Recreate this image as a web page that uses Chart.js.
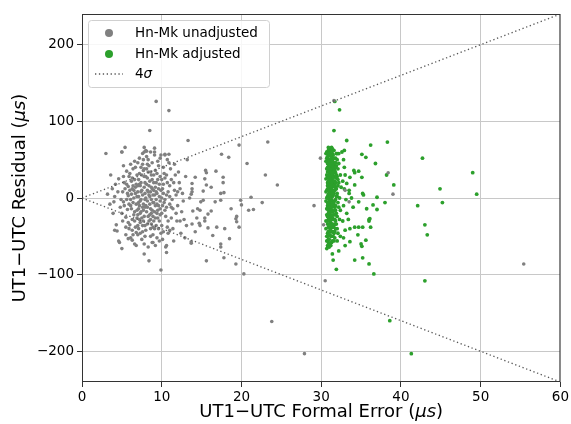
<!DOCTYPE html>
<html>
<head>
<meta charset="utf-8">
<script src="https://cdn.jsdelivr.net/npm/chart.js@4.4.1/dist/chart.umd.min.js"></script>
<style>
  html, body { margin: 0; padding: 0; background: #fff; }
  #wrap { width: 571px; height: 424px; }
</style>
</head>
<body>
<div id="wrap"><canvas id="chart"></canvas></div>
<script>
// Hn-Mk unadjusted: [formal error, residual] in microseconds
const unadjusted = [
  [3.2,5],[3.5,-8],[3.8,12],[3.9,-20],[4.1,2],[4.3,-35],[4.4,-43],[4.6,25],[4.7,-58],[4.2,18],[3.6,30],[4.8,-12],[3.0,58],
  [5.0,-66],[5.4,66],[5.0,60],[5.1,8],[5.2,-5],[5.3,20],[5.5,-25],[5.6,35],[5.7,-15],[5.8,3],[5.9,-40],[5.2,42],[5.5,-48],
  [5.8,15],[5.1,-30],[5.6,-2],[5.9,28],[6.0,10],[6.1,-10],[6.2,22],[6.3,-28],[6.4,38],[6.5,0],[6.6,-18],[6.7,14],[6.8,-45],
  [6.9,30],[6.0,-35],[6.2,5],[6.4,-6],[6.6,48],[6.8,18],[6.1,-52],[6.3,12],[6.5,-22],[6.7,-38],[6.9,2],[6.3,26],[6.6,-30],
  [7.0,8],[7.1,-14],[7.2,32],[7.3,-4],[7.4,20],[7.5,-26],[7.6,44],[7.7,-8],[7.8,14],[7.9,-36],[7.0,-48],[7.2,52],[7.4,-18],
  [7.6,4],[7.8,-60],[7.1,24],[7.3,-32],[7.5,10],[7.7,36],[7.9,-2],[7.0,-22],[7.2,-10],[7.4,40],[7.6,-44],[7.8,28],[7.3,16],
  [7.5,-54],[7.7,-16],[7.9,6],[7.1,-40],[7.6,58],[7.8,-73],[8.0,0],[8.1,18],[8.2,-12],[8.3,34],[8.4,-30],[8.5,88],[8.6,8],
  [8.7,-20],[8.8,46],[8.9,-6],[8.0,-42],[8.2,26],[8.4,-82],[8.6,-50],[8.8,12],[8.1,54],[8.3,-24],[8.5,2],[8.7,30],[8.9,-38],
  [8.0,62],[8.2,-4],[8.4,16],[8.6,-14],[8.8,-58],[8.1,38],[8.3,-64],[8.5,22],[8.7,-34],[8.9,4],[8.2,44],[8.6,-28],
  [9.0,10],[9.1,-18],[9.2,36],[9.3,126],[9.4,-8],[9.5,24],[9.6,-40],[9.7,2],[9.8,52],[9.9,-94],[9.0,-30],[9.2,14],[9.4,-52],
  [9.6,42],[9.8,-14],[9.1,60],[9.3,-2],[9.5,-26],[9.7,18],[9.9,-46],[9.0,30],[9.2,-62],[9.4,6],[9.6,-10],[9.8,28],[9.3,-36],
  [10.0,-20],[10.1,12],[10.2,40],[10.3,-6],[10.4,56],[10.5,-64],[10.6,-71],[10.7,20],[10.8,-30],[10.9,114],[10.0,0],
  [10.2,-44],[10.4,26],[10.6,-12],[10.8,8],[10.1,-54],[10.3,32],[10.5,-24],[10.7,-38],[10.9,46],[10.2,18],[10.6,4],
  [11.0,-8],[11.2,24],[11.4,-40],[11.6,10],[11.8,-20],[11.1,38],[11.3,-2],[11.5,-56],[11.7,30],[11.9,-30],[11.0,16],
  [11.4,-14],[11.8,4],[11.2,-26],[11.6,44],[12.0,-10],[12.2,20],[12.4,-46],[12.6,6],[12.8,-28],[12.1,34],[12.5,-18],
  [12.9,-52],[12.3,12],[12.7,-4],[13.2,50],[13.3,75],[13.1,-36],[13.5,0],[13.0,28],
  [5.3,-10],[5.7,6],[6.1,-2],[6.4,16],[6.8,-8],[7.1,2],[7.3,-20],[7.5,30],[7.7,-30],[7.9,20],[8.1,-18],[8.3,8],[8.5,-8],
  [8.7,14],[8.9,-24],[9.1,4],[9.3,20],[9.5,-16],[9.7,-30],[9.9,10],[6.2,-14],[6.6,24],[7.0,-36],[7.4,-2],[7.8,-24],
  [8.2,-34],[8.6,34],[9.0,-6],[9.4,-20],[9.8,-4],[6.5,10],[7.2,18],[7.9,-12],[8.4,4],[8.8,24],[9.2,-10],[5.6,18],[6.9,-26],
  [7.6,-12],[8.0,28],[10.4,-2],[10.0,24],[5.0,-20],[4.5,8],[4.0,-5],[12.0,8],[11.5,20],[11.0,-42],[12.3,-30],[10.7,50],
  [7.8,66],[9.1,65],[8.1,61],[8.6,60],[9.1,56],[9.9,56],[10.4,57],[10.9,57],[7.8,60],[5.0,60],[6.6,-60],[8.9,-58],
  [4.1,-42],[4.6,-56],[5.8,-53],[6.3,-55],[10.6,-62],
  [4.9,-2],[5.4,12],[5.2,28],[5.8,-32],[6.0,32],[6.3,-42],[6.7,40],[6.9,-16],[7.0,16],[7.2,-28],[7.4,8],[7.6,-36],[7.8,38],
  [8.0,-10],[8.2,10],[8.4,42],[8.6,-40],[8.8,-16],[9.0,20],[9.2,-26],[9.4,32],[9.6,12],[9.8,-22],[10.0,-36],[10.2,6],
  [10.4,-16],[10.6,30],[10.8,-46],[11.0,2],[11.2,-12],[6.4,-48],[7.0,46],[7.7,50],[8.3,50],[9.5,48],[5.5,-38],[6.1,44],
  [8.9,-48],[9.7,-56],[6.8,-62],[5.9,-8],[7.3,-46],[8.5,-22],[9.1,-40],[10.1,-10],[7.1,-6],[8.7,-2],[6.7,6],[9.3,8],[7.9,-50],
  [13.8,12],[13.8,8],[13.7,5],[13.7,-57],[13.7,-59],[13.8,-34],[13.9,-17],[13.8,19],[14.2,27],[14.2,-44],[14.5,-14],
  [14.4,-26],[14.7,-33],[14.8,-36],[14.8,-16],[14.9,-5],[15.2,-3],[15.2,9],[15.4,25],[15.4,-26],[15.4,-30],[15.5,36],
  [15.6,17],[15.6,-82],[15.6,33],[15.8,-21],[15.8,-39],[16.2,14],[16.2,-17],[16.4,-49],[16.7,-5],[16.8,35],[16.9,-38],
  [17.4,6],[17.4,-3],[17.4,-60],[17.4,-64],[17.5,57],[17.7,27],[17.7,20],[17.8,7],[17.8,-78],[17.9,-40],[18.4,53],
  [18.5,-53],[18.7,-14],[19.3,-27],[19.3,-86],[19.4,-31],[19.4,-24],[19.7,-38],[19.7,69],[19.9,-3],[20.0,-9],[20.3,-99],
  [20.7,45],[20.9,-16],[21.2,1],[21.5,-15],[22.6,-6],[23.0,30],[23.3,73],[23.8,-161],[24.5,17],[27.9,-203],[29.1,-10],
  [29.9,52],[30.3,-35],[30.5,-108],[31.6,127],[33.0,10],[33.5,-5],[38.4,33],[39.0,5],[55.4,-86]
];

// Hn-Mk adjusted
const adjusted = [
  [30.7,60],[30.9,62],[31.0,55],[31.2,64],[31.4,58],[31.6,62],[31.8,52],[30.6,48],[30.8,45],[31.1,50],[31.3,44],[31.5,47],
  [31.7,40],[32.0,50],[32.2,45],[30.7,38],[30.9,35],[31.0,42],[31.2,30],[31.4,36],[31.6,28],[31.8,33],[32.1,38],[32.4,30],
  [30.6,25],[30.8,20],[31.0,27],[31.1,18],[31.3,24],[31.5,15],[31.7,22],[31.9,12],[32.2,20],[32.5,14],[30.7,10],[30.9,5],
  [31.0,14],[31.2,8],[31.4,2],[31.6,10],[31.8,-2],[32.0,6],[32.3,0],[30.6,-4],[30.8,-10],[31.0,-6],[31.1,-14],[31.3,-8],
  [31.5,-18],[31.7,-12],[31.9,-20],[32.1,-6],[32.4,-16],[30.7,-22],[30.9,-28],[31.0,-20],[31.2,-32],[31.4,-26],[31.6,-36],
  [31.8,-30],[32.0,-40],[32.3,-28],[30.6,-40],[30.8,-46],[31.1,-38],[31.3,-50],[31.5,-44],[31.7,-52],[32.0,-56],[30.9,-58],
  [31.2,-62],[30.7,-66],[31.4,-73],[31.5,-81],[31.9,-93],[32.2,-69],[33.0,-62],[31.6,88],[32.3,115],[31.7,126],
  [30.8,58],[31.1,61],[31.3,53],[31.5,56],[30.7,52],[31.9,58],[30.9,50],[31.2,46],[31.4,50],[31.6,44],[31.8,46],[30.8,40],
  [31.0,36],[31.3,40],[31.5,32],[31.7,36],[31.9,42],[32.0,28],[30.7,30],[30.9,26],[31.1,32],[31.3,28],[31.5,22],[31.7,18],
  [31.9,26],[32.1,16],[30.8,16],[31.0,22],[31.2,12],[31.4,18],[31.6,6],[31.8,14],[32.0,2],[30.6,8],[30.8,2],[31.0,-2],
  [31.2,4],[31.4,-4],[31.6,-8],[31.8,-10],[32.2,-12],[30.7,-14],[30.9,-16],[31.1,-24],[31.3,-18],[31.5,-28],[31.7,-22],
  [31.9,-34],[30.6,-30],[30.8,-34],[31.0,-44],[31.2,-40],[31.4,-34],[31.6,-46],[31.8,-40],[32.1,-46],[30.7,-50],[30.9,-54],
  [31.1,-48],[31.3,-58],[31.6,-56],[30.8,-62],[31.0,-64],[32.4,-50],
  [30.9,44],[31.1,40],[31.3,34],[31.4,28],[31.0,30],[31.2,24],[30.9,18],[31.1,10],[31.3,14],[31.5,4],[30.7,0],[30.9,-8],
  [31.1,-4],[31.3,-12],[31.0,-26],[31.2,-22],[31.4,-16],[30.9,-38],[31.1,-30],[31.3,-44],[31.5,-38],[31.7,-28],[31.5,8],
  [31.6,16],[31.4,10],[31.2,-10],[31.0,6],[30.8,28],[31.2,38],[31.4,42],[31.0,48],[31.3,62],[31.6,52],[30.8,-24],[31.7,-4],
  [31.8,20],[31.9,2],[31.6,34],[31.7,-44],[30.7,-56],[30.9,66],[31.3,66],[32.0,58],[32.2,58],[30.6,58],
  [30.8,54],[31.0,58],[31.2,56],[31.4,64],[31.1,44],[31.3,48],[31.5,40],[30.8,34],[31.2,34],[31.4,32],[30.9,22],[31.1,26],
  [31.3,20],[31.5,26],[30.8,12],[31.0,10],[31.2,16],[31.4,6],[30.9,0],[31.1,2],[31.3,-2],[31.5,-6],[30.8,-6],[31.0,-12],
  [31.2,-16],[31.4,-10],[30.9,-20],[31.1,-18],[31.3,-24],[31.5,-22],[30.8,-30],[31.0,-34],[31.2,-28],[31.4,-38],[30.9,-44],
  [31.1,-42],[31.3,-36],[31.5,-50],[30.8,-50],[31.0,-54],[31.2,-50],[31.4,-56],[31.1,-60],[31.7,10],[31.8,-16],[31.9,30],
  [32.0,-24],[32.1,24],[31.7,-34],[31.8,40],
  [33.2,75],[36.2,69],[38.3,73],[35.1,57],[35.6,53],[36.8,45],[38.2,30],[39.1,17],[37.0,1],[38.0,-6],[37.0,-15],[35.2,6],
  [35.3,4],[34.7,-5],[35.7,-14],[36.0,-28],[34.1,36],[34.7,35],[34.2,33],[35.1,27],[33.6,27],[33.2,19],[34.2,17],[33.5,10],
  [33.5,6],[36.5,-9],[34.6,-48],[35.6,-55],[35.0,-60],[35.1,-63],[34.7,-38],[36.1,-27],[36.0,-30],[36.2,-38],[35.2,-38],
  [34.2,-38],[33.6,-40],[33.0,-42],[33.6,-57],[34.2,-81],[35.2,-78],[36.0,-86],[36.6,-99],[32.8,50],[32.9,40],[33.0,30],
  [32.7,22],[32.9,12],[33.1,-2],[32.8,-10],[33.2,-20],[32.7,-30],[33.4,-28],[32.6,60],[32.9,62],[33.8,0],[34.0,-12],
  [32.8,-52],
  [42.7,52],[49.0,33],[44.9,12],[49.5,5],[42.1,-10],[45.2,-6],[43.0,-35],[43.3,-48],[43.0,-108],[38.6,-160],[41.3,-203]
];

// 4 sigma envelope end points
const sigmaUpper = [[0, 0], [60, 240]];
const sigmaLower = [[0, 0], [60, -240]];

const xTicks = [0, 10, 20, 30, 40, 50, 60];
const yTicks = [-200, -100, 0, 100, 200];

const GRAY = '#808080';
const GREEN = '#2ca02c';
const LINE = '#555';
const DASH = [1.3, 2.6];
const FONT = "'DejaVu Sans', sans-serif";

const toXY = arr => arr.map(p => ({ x: p[0], y: p[1] }));

// frame, legend and axis titles drawn by hand (matplotlib look)
const extras = {
  id: 'extras',
  afterDraw(chart) {
    const { ctx, chartArea: a } = chart;
    ctx.save();
    ctx.strokeStyle = '#333';
    ctx.lineWidth = 1;
    ctx.strokeRect(a.left + 0.5, a.top + 0.5, a.right - a.left - 1, a.bottom - a.top - 1);

    // legend box
    const lx = 88, ly = 20, lw = 181, lh = 67;
    ctx.fillStyle = 'rgba(255,255,255,0.85)';
    ctx.strokeStyle = '#d0d0d0';
    ctx.beginPath();
    ctx.roundRect(lx + 0.5, ly + 0.5, lw, lh, 3);
    ctx.fill();
    ctx.stroke();

    ctx.font = '13.5px ' + FONT;
    ctx.textBaseline = 'middle';
    const rows = [33, 54, 74];
    ctx.fillStyle = GRAY;
    ctx.beginPath(); ctx.arc(109, rows[0], 4, 0, Math.PI * 2); ctx.fill();
    ctx.fillStyle = GREEN;
    ctx.beginPath(); ctx.arc(109, rows[1], 4, 0, Math.PI * 2); ctx.fill();
    ctx.strokeStyle = LINE;
    ctx.lineWidth = 1.3;
    ctx.setLineDash(DASH);
    ctx.beginPath(); ctx.moveTo(95, rows[2]); ctx.lineTo(123, rows[2]); ctx.stroke();
    ctx.setLineDash([]);

    ctx.fillStyle = '#000';
    ctx.fillText('Hn-Mk unadjusted', 135, rows[0]);
    ctx.fillText('Hn-Mk adjusted', 135, rows[1]);
    ctx.fillText('4', 135, rows[2]);
    const w4 = ctx.measureText('4').width;
    ctx.font = 'italic 13.5px ' + FONT;
    ctx.fillText('σ', 135 + w4, rows[2]);

    // axis titles with italic unit
    const drawTitle = (parts, cx, cy, rot) => {
      ctx.save();
      ctx.translate(cx, cy);
      ctx.rotate(rot);
      let total = 0;
      parts.forEach(p => { ctx.font = p[1] + ' 18px ' + FONT; total += ctx.measureText(p[0]).width; });
      let x = -total / 2;
      ctx.textBaseline = 'middle';
      ctx.textAlign = 'left';
      parts.forEach(p => {
        ctx.font = p[1] + ' 18px ' + FONT;
        ctx.fillText(p[0], x, 0);
        x += ctx.measureText(p[0]).width;
      });
      ctx.restore();
    };
    ctx.fillStyle = '#000';
    drawTitle([['UT1\u2212UTC Formal Error (', 'normal'], ['\u03bcs', 'italic'], [')', 'normal']],
      (a.left + a.right) / 2, 412, 0);
    drawTitle([['UT1\u2212UTC Residual (', 'normal'], ['\u03bcs', 'italic'], [')', 'normal']],
      20, (a.top + a.bottom) / 2, -Math.PI / 2);
    ctx.restore();
  }
};

const fmt = v => String(v).replace('-', '\u2212');

new Chart(document.getElementById('chart'), {
  type: 'scatter',
  data: {
    datasets: [
      {
        label: 'Hn-Mk unadjusted',
        data: toXY(unadjusted),
        backgroundColor: GRAY,
        borderWidth: 0,
        pointRadius: 1.8,
        order: 1
      },
      {
        label: 'Hn-Mk adjusted',
        data: toXY(adjusted),
        backgroundColor: GREEN,
        borderWidth: 0,
        pointRadius: 1.9,
        order: 2
      },
      {
        label: '4σ',
        type: 'line',
        data: toXY(sigmaUpper),
        borderColor: LINE,
        borderWidth: 1.3,
        borderDash: DASH,
        pointRadius: 0,
        fill: false,
        order: 0
      },
      {
        label: '4σ lower',
        type: 'line',
        data: toXY(sigmaLower),
        borderColor: LINE,
        borderWidth: 1.3,
        borderDash: DASH,
        pointRadius: 0,
        fill: false,
        order: 0
      }
    ]
  },
  options: {
    responsive: true,
    maintainAspectRatio: false,
    animation: false,
    layout: { padding: { top: 14, right: 10, left: 0, bottom: 0 } },
    plugins: {
      legend: { display: false },
      tooltip: { enabled: false }
    },
    scales: {
      x: {
        type: 'linear',
        min: 0,
        max: 60,
        afterBuildTicks: s => { s.ticks = xTicks.map(v => ({ value: v })); },
        afterFit: s => { s.height = 42; },
        border: { display: false },
        grid: { color: '#c8c8c8', lineWidth: 1, tickColor: '#333', tickLength: 5 },
        ticks: { color: '#000', font: { family: FONT, size: 13.5 }, padding: 2, maxRotation: 0, callback: v => fmt(v) }
      },
      y: {
        type: 'linear',
        min: -240,
        max: 240,
        afterBuildTicks: s => { s.ticks = yTicks.map(v => ({ value: v })); },
        afterFit: s => { s.width = 82; },
        border: { display: false },
        grid: { color: '#c8c8c8', lineWidth: 1, tickColor: '#333', tickLength: 5 },
        ticks: { color: '#000', font: { family: FONT, size: 13.5 }, padding: 3, callback: v => fmt(v) }
      }
    }
  },
  plugins: [extras]
});
</script>
</body>
</html>
